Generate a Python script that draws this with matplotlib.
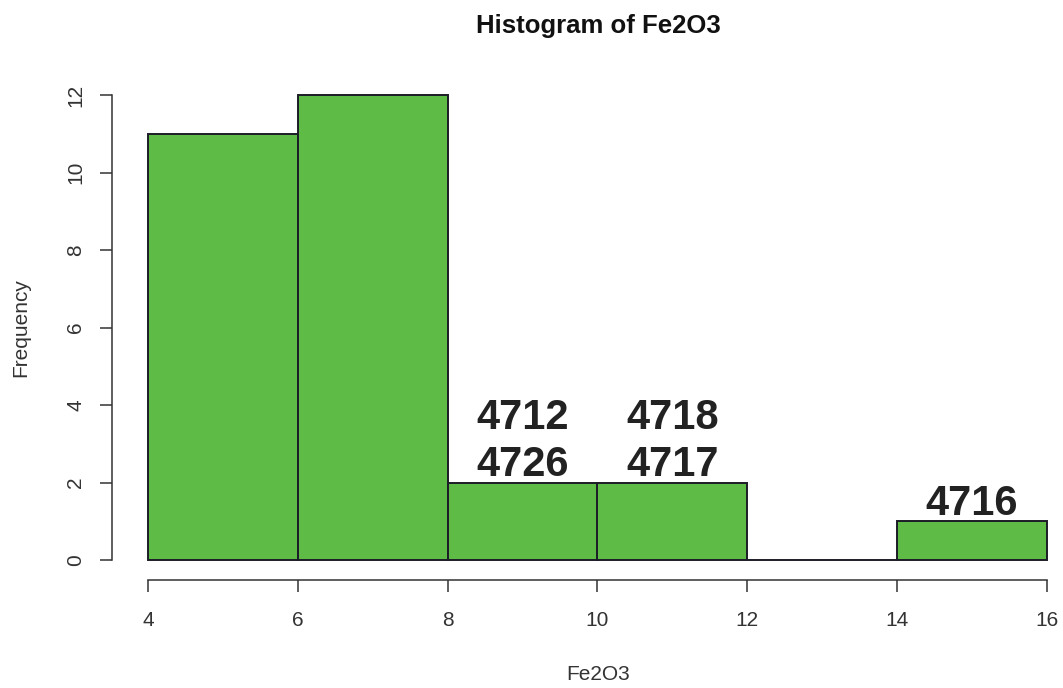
import matplotlib
matplotlib.use("Agg")
import matplotlib.pyplot as plt

# data
bin_edges = [4, 6, 8, 10, 12, 14, 16]
counts = [11, 12, 2, 2, 0, 1]
bar_labels = [[], [], ["4726", "4712"], ["4717", "4718"], [], ["4716"]]  # bottom line first
x_ticks = [4, 6, 8, 10, 12, 14, 16]
y_ticks = [0, 2, 4, 6, 8, 10, 12]

plt.rcParams["font.family"] = ["Liberation Sans", "DejaVu Sans"]

W, H = 1063, 688
fig = plt.figure(figsize=(W / 100, H / 100), dpi=100)
fig.patch.set_facecolor("white")

# plot region in pixels (from the reference)
left, right, top, bottom = 148, 1047, 95, 560
ax = fig.add_axes([left / W, (H - bottom) / H, (right - left) / W, (bottom - top) / H])

widths = [b - a for a, b in zip(bin_edges[:-1], bin_edges[1:])]
ax.bar(bin_edges[:-1], counts, width=widths, align="edge",
       color="#5dbb46", edgecolor="#1c1c28", linewidth=1.4, clip_on=False)

# bar labels, stacked above each bar
for a, w, c, labs in zip(bin_edges[:-1], widths, counts, bar_labels):
    for i, lab in enumerate(labs):
        ax.annotate(lab, (a + w / 2, c), xytext=(0, 4.5 + i * 34),
                    textcoords="offset points", ha="center", va="baseline",
                    fontsize=30, fontweight="bold", color="#222222",
                    annotation_clip=False)

ax.set_xlim(4, 16)
ax.set_ylim(0, 12)
ax.set_xticks(x_ticks)
ax.set_yticks(y_ticks)

for s in ("top", "right"):
    ax.spines[s].set_visible(False)
ax.spines["left"].set_position(("outward", 26))
ax.spines["bottom"].set_position(("outward", 14.4))
ax.spines["left"].set_bounds(0, 12)
ax.spines["bottom"].set_bounds(4, 16)
for s in ("left", "bottom"):
    ax.spines[s].set_linewidth(1.1)
    ax.spines[s].set_color("#333333")
ax.tick_params(axis="both", length=8.6, width=1.1, color="#333333",
               labelsize=15, labelcolor="#333333")
ax.tick_params(axis="y", pad=10.5, labelrotation=90)
ax.tick_params(axis="x", pad=13.5)
for lab in ax.get_yticklabels():
    lab.set_va("center")

fig.text(598 / W, 1 - 33 / H, "Histogram of Fe2O3", ha="center", va="baseline",
         fontsize=18.5, fontweight="bold", color="#111111")
fig.text(598 / W, 1 - 680 / H, "Fe2O3", ha="center", va="baseline",
         fontsize=15, color="#333333")
fig.text(21 / W, 1 - 328 / H, "Frequency", ha="center", va="center",
         rotation=90, fontsize=15, color="#333333")

fig.savefig("out.png", dpi=100)
